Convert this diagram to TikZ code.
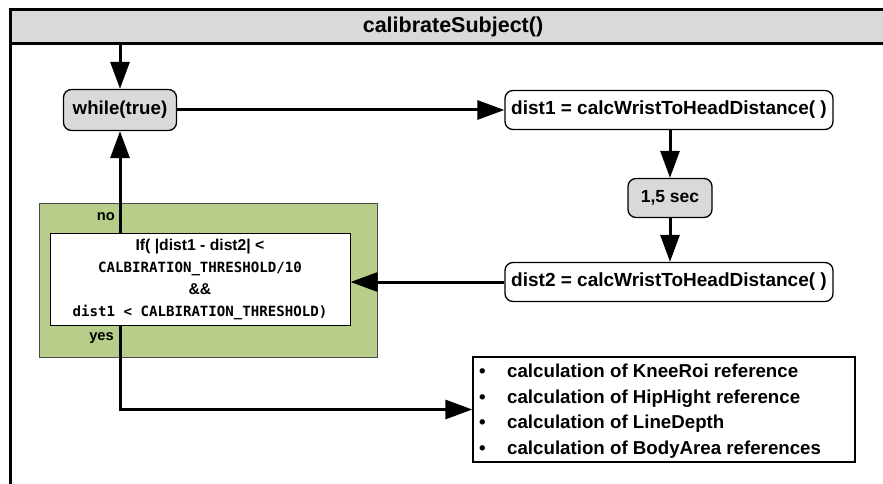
\documentclass[tikz,border=0pt]{standalone}
\usepackage{fontspec}
\setmainfont{Liberation Sans}
\newfontfamily\monofont{DejaVu Sans Mono}
\usetikzlibrary{arrows.meta}
\definecolor{boxgray}{HTML}{D9D9D9}
\definecolor{condgreen}{HTML}{B9CD8A}
\definecolor{greenedge}{HTML}{4A4A4A}
\tikzset{
  flow/.style={line width=3pt, -{Triangle[length=27pt,width=19pt]}},
  proc/.style={draw, line width=1.3pt, rounded corners=8pt, fill=white,
    font=\bfseries\fontsize{19}{22}\selectfont, inner sep=0pt, text height=0.85em, text depth=0pt},
  grayproc/.style={proc, fill=boxgray},
  lbl/.style={font=\bfseries\fontsize{14.7}{16}\selectfont, anchor=east, inner sep=0pt},
}
\begin{document}
\begin{tikzpicture}[x=1pt,y=-1pt]
\useasboundingbox (0,0) rectangle (883,484);
\clip (0,0) rectangle (883,484);
\fill[white] (0,0) rectangle (883,484);
% frame
\node (header) [draw, line width=3pt, fill=boxgray, minimum width=886pt, minimum height=34pt,
  inner sep=0pt, font=\bfseries\fontsize{21.5}{24}\selectfont] at (453,27) {calibrateSubject()};
\coordinate (frameTop) at (10,44);
\coordinate (frameBot) at (10,490);
\draw[line width=3pt] (frameTop) -- (frameBot);
% nodes
\node (while) [grayproc, minimum width=113pt, minimum height=41pt, font=\bfseries\fontsize{18.7}{22}\selectfont] at (120,110) {while(true)};
\node (dist1) [proc, minimum width=328pt, minimum height=39pt] at (669,110) {dist1 = calcWristToHeadDistance( )};
\node (wait) [grayproc, minimum width=84pt, minimum height=39pt, font=\bfseries\fontsize{17.5}{22}\selectfont] at (670,198) {1,5 sec};
\node (dist2) [proc, minimum width=328pt, minimum height=39pt] at (669,282) {dist2 = calcWristToHeadDistance( )};
\node (cond) [draw=greenedge, line width=0.8pt, fill=condgreen, minimum width=338pt, minimum height=154pt] at (208,280) {};
\node (ifbox) [draw, line width=1pt, fill=white, minimum width=300pt, minimum height=92pt,
  align=center, inner sep=0pt, font=\bfseries\fontsize{15.7}{22}\selectfont] at (200,279)
  {If( |dist1 - dist2| <\\ {\monofont\fontsize{14.1}{22}\selectfont CALBIRATION\_THRESHOLD/10}\\ \&\&\\
   {\monofont\fontsize{14.1}{22}\selectfont dist1 < CALBIRATION\_THRESHOLD)}};
\node (no) [lbl] at (115,217) {no};
\node (yes) [lbl] at (114,338) {yes};
\node (list) [draw, line width=1.3pt, minimum width=382pt, minimum height=105pt, inner sep=0pt] at (664,409.5) {};
\node (listtext) [anchor=west, inner sep=0pt, font=\bfseries\fontsize{18.7}{25.7}\selectfont] at (479,411)
  {\begin{tabular}{@{}p{28pt}@{}l@{}}
   \textbullet & calculation of KneeRoi reference\\
   \textbullet & calculation of HipHight reference\\
   \textbullet & calculation of LineDepth\\
   \textbullet & calculation of BodyArea references
   \end{tabular}};
% connectors
\coordinate (entry) at (120,44);
\draw[flow] (entry) -- (while.north);
\draw[flow] (while.east) -- (dist1.west);
\draw[flow] (dist1.south -| wait.north) -- (wait.north);
\draw[flow] (wait.south) -- (wait.south |- dist2.north);
\draw[flow] (dist2.west) -- (dist2.west -| ifbox.east);
\draw[flow] (while.south |- ifbox.north) -- (while.south);
\draw[flow] (while.south |- ifbox.south) |- (list.west);
\end{tikzpicture}
\end{document}
